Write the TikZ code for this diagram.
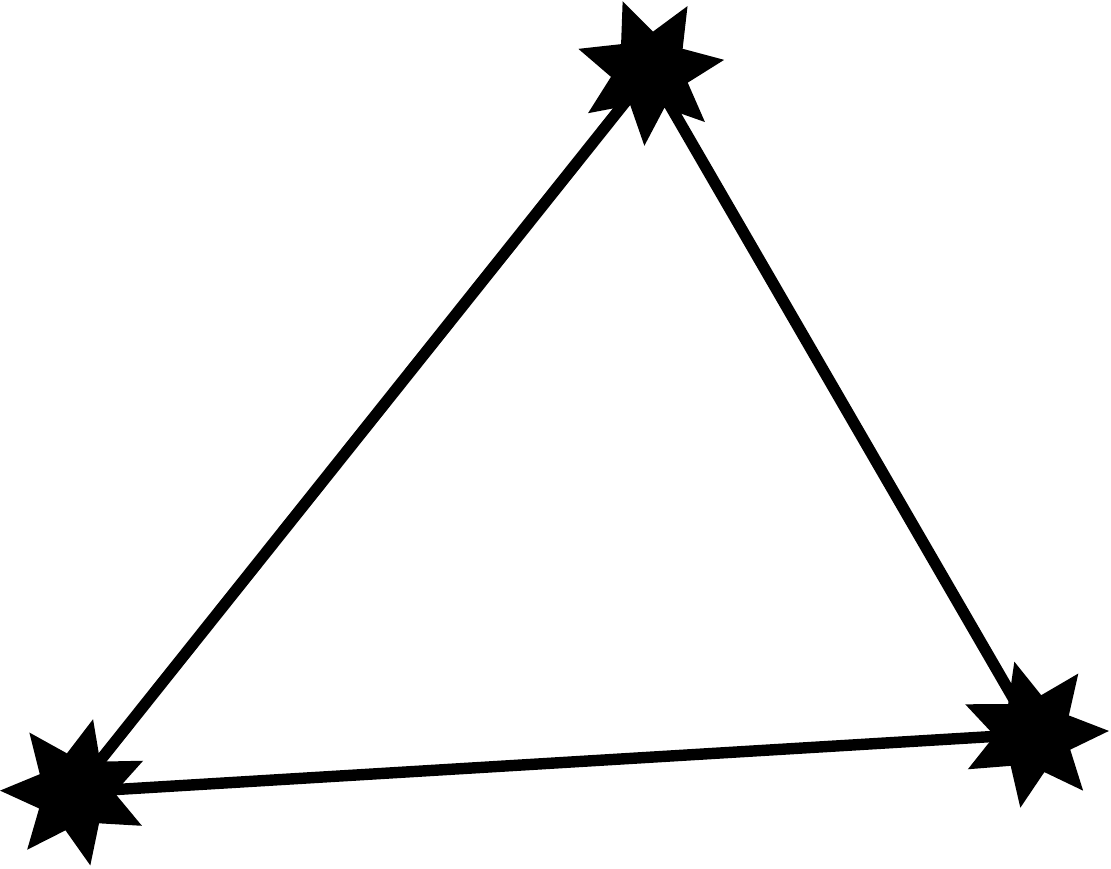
\documentclass[tikz,border=0pt]{standalone}
\usetikzlibrary{shapes.geometric,backgrounds}

\tikzset{
  vertex/.style={star, star points=7, star point ratio=1.9, fill=black,
    draw=none, inner sep=0pt, minimum size=3cm},
  edge/.style={line width=6.5pt}
}

\begin{document}
\begin{tikzpicture}[x=0.02cm, y=-0.02cm]

% Canvas
\useasboundingbox (0,0) rectangle (1111,868);

% Corners of the triangle
\node[vertex, rotate=21.4] (top) at (650,71) {};
\node[vertex, rotate=15.2] (right) at (1034,734) {};
\node[vertex, rotate=37.5] (left) at (75,792) {};

% Sides, behind the stars
\begin{scope}[on background layer]
\draw[edge] (left.center) -- (top.center);
\draw[edge] (top.center) -- (right.center);
\draw[edge] (right.center) -- (left.center);
\end{scope}

\end{tikzpicture}
\end{document}
